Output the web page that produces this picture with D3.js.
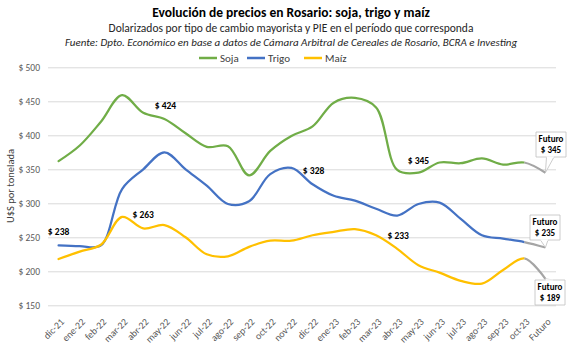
<!DOCTYPE html>
<html><head><meta charset="utf-8">
<script src="https://cdn.jsdelivr.net/npm/d3@7"></script>
<style>
body{margin:0;background:#fff;}
text{font-family:Carlito,Lato,"Open Sans",sans-serif;}
</style></head><body>
<svg id="c" width="582" height="355"></svg>
<script>
const categories = ["dic-21","ene-22","feb-22","mar-22","abr-22","may-22","jun-22","jul-22","ago-22","sep-22","oct-22","nov-22","dic-22","ene-23","feb-23","mar-23","abr-23","may-23","jun-23","jul-23","ago-23","sep-23","oct-23","Futuro"];
const soja  = [362,385,420,459,433,424,403,383,384,341,377,399,413,448,455,441,349,345,360,359,366,357,360,345];
const trigo = [238,237,238,321,350,375,350,326,299,303,343,352,328,311,304,292,282,299,301,277,253,248,243,235];
const maiz  = [218,229,239,280,263,268,250,225,222,236,245,245,253,258,262,253,233,209,198,186,182,202,219,189];
const yTicks = [150,200,250,300,350,400,450,500];
const seriesNames = ["Soja","Trigo","Maíz"];
const colors = ["#70AD47","#4472C4","#FFC000"];
const futureColor = "#A5A5A5";
// value labels: [series index, category index, text]
const valueLabels = [[0,5,"$ 424"],[1,0,"$ 238"],[2,4,"$ 263"],[1,12,"$ 328"],[2,16,"$ 233"],[0,17,"$ 345"]];

const svg = d3.select("#c");
const L = 48, R = 556, T = 67.3, B = 305.3;
const x = d3.scaleBand().domain(categories).range([L,R]);
const xc = c => x(c) + x.bandwidth()/2;
const y = d3.scaleLinear().domain([150,500]).range([B,T]);

// title
svg.append("text").attr("x",291).attr("y",17).attr("text-anchor","middle")
  .attr("font-size",13.5).attr("font-weight","bold").attr("fill","#000")
  .text("Evolución de precios en Rosario: soja, trigo y maíz");
svg.append("text").attr("x",291).attr("y",32).attr("text-anchor","middle")
  .attr("font-size",11.5).attr("fill","#262626")
  .text("Dolarizados por tipo de cambio mayorista y PIE en el período que corresponda");
svg.append("text").attr("x",291).attr("y",46).attr("text-anchor","middle")
  .attr("font-size",11).attr("font-style","italic").attr("fill","#262626")
  .text("Fuente: Dpto. Económico en base a datos de Cámara Arbitral de Cereales de Rosario, BCRA e Investing");

// legend
const lg = svg.append("g");
const legX = [199,247,304];
seriesNames.forEach((n,i)=>{
  lg.append("line").attr("x1",legX[i]).attr("x2",legX[i]+18).attr("y1",58).attr("y2",58)
    .attr("stroke",colors[i]).attr("stroke-width",2.5);
  lg.append("text").attr("x",legX[i]+21).attr("y",61.5).attr("font-size",11).attr("fill","#404040").text(n);
});

// grid + y axis
const yAxis = d3.axisLeft(y).tickValues(yTicks).tickSize(-(R-L)).tickFormat(d=>"$ "+d);
const ga = svg.append("g").attr("transform",`translate(${L},0)`).call(yAxis);
ga.select(".domain").remove();
ga.selectAll(".tick line").attr("stroke","#D9D9D9").attr("stroke-width",1);
ga.selectAll(".tick text").attr("x",-8).attr("font-size",9.5).attr("fill","#595959")
  .style("font-family","Carlito,Lato,'Open Sans',sans-serif");

// y label
svg.append("text").attr("transform","translate(14,186) rotate(-90)").attr("text-anchor","middle")
  .attr("font-size",10.5).attr("fill","#404040").text("U$S por tonelada");

// x axis
const xAxis = d3.axisBottom(x).tickSize(0);
const gx = svg.append("g").attr("transform",`translate(0,${B})`).call(xAxis);
gx.select(".domain").remove();
gx.selectAll(".tick text").attr("text-anchor","end").attr("dx",0).attr("dy",0)
  .attr("transform","translate(4,15) rotate(-45)").attr("font-size",9.8).attr("fill","#595959")
  .style("font-family","Carlito,Lato,'Open Sans',sans-serif");

// clips
const defs = svg.append("defs");
const splitX = xc(categories[categories.length-2]);
defs.append("clipPath").attr("id","past").append("rect").attr("x",0).attr("y",0).attr("width",splitX).attr("height",355);
defs.append("clipPath").attr("id","fut").append("rect").attr("x",splitX).attr("y",0).attr("width",582-splitX).attr("height",355);

const line = d3.line().x((d,i)=>xc(categories[i])).y(d=>y(d)).curve(d3.curveCatmullRom.alpha(0.5));
const data = [soja,trigo,maiz];
data.forEach((s,i)=>{
  svg.append("path").attr("d",line(s)).attr("fill","none").attr("stroke",futureColor)
    .attr("stroke-width",2.25).attr("clip-path","url(#fut)");
  svg.append("path").attr("d",line(s)).attr("fill","none").attr("stroke",colors[i])
    .attr("stroke-width",2.25).attr("clip-path","url(#past)").attr("stroke-linecap","round");
});

// value labels
const offs = {"0-5":[1,-10],"1-0":[0,-10],"2-4":[0,-10],"1-12":[1,-10],"2-16":[1,-10],"0-17":[0,-9]};
valueLabels.forEach(([si,ci,t])=>{
  const o = offs[si+"-"+ci];
  svg.append("text").attr("x",xc(categories[ci])+o[0]).attr("y",y(data[si][ci])+o[1])
    .attr("text-anchor","middle").attr("font-size",9.5).attr("font-weight","bold").attr("fill","#000").text(t);
});

// futuro callouts
const boxes = [[536,132],[530,215],[535,280]];
const fi = categories.length-1;
boxes.forEach(([bx,by],si)=>{
  const w=30,h=25;
  const px = xc(categories[fi]), py = y(data[si][fi]);
  const g = svg.append("g");
  let pts;
  if (py > by+h) pts = [[bx+w*0.35,by+h],[px,py],[bx+w*0.6,by+h]];
  else if (py < by) pts = [[bx+w*0.35,by],[px,py],[bx+w*0.6,by]];
  else pts = [[bx+w,by+h*0.6],[px,py],[bx+w,by+h*0.9]];
  g.append("path").attr("d",`M${bx},${by}H${bx+w}V${by+h}H${bx}Z`).attr("fill","#fff").attr("stroke","#BFBFBF").attr("stroke-width",0.8);
  g.append("path").attr("d",`M${pts[0]}L${pts[1]}L${pts[2]}`).attr("fill","#fff").attr("stroke","#BFBFBF").attr("stroke-width",0.8);
  g.append("line").attr("x1",pts[0][0]).attr("y1",pts[0][1]).attr("x2",pts[2][0]).attr("y2",pts[2][1]).attr("stroke","#fff").attr("stroke-width",1.2);
  g.append("text").attr("x",bx+w/2).attr("y",by+10).attr("text-anchor","middle").attr("font-size",9).attr("font-weight","bold").text("Futuro");
  g.append("text").attr("x",bx+w/2).attr("y",by+21).attr("text-anchor","middle").attr("font-size",9).attr("font-weight","bold").text("$ "+data[si][fi]);
});
</script></body></html>
